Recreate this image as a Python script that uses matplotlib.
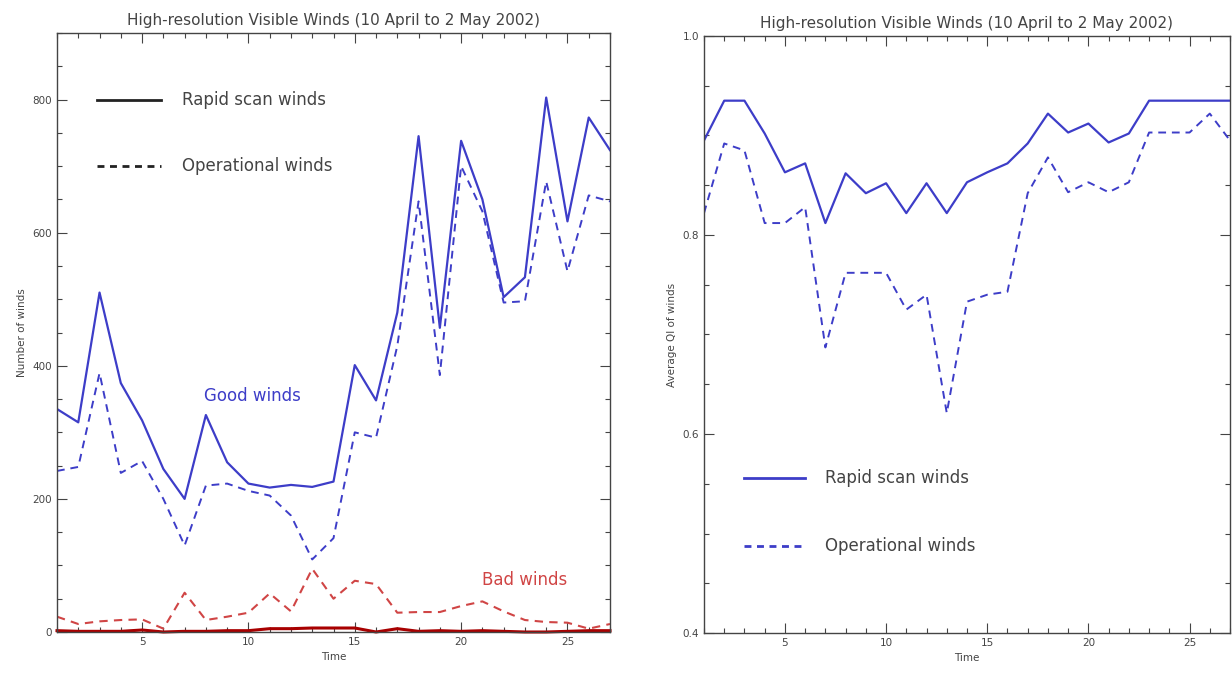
import matplotlib.pyplot as plt
import numpy as np
from matplotlib.ticker import MultipleLocator

time = np.arange(1, 28)

# left panel: number of winds
good_rapid = [335, 315, 510, 374, 318, 245, 200, 326, 255, 223, 217, 221, 218, 226,
              401, 348, 480, 745, 457, 738, 650, 503, 533, 803, 617, 773, 724]
good_oper = [242, 248, 389, 239, 257, 200, 130, 220, 223, 212, 205, 175, 109, 141,
             300, 292, 430, 647, 386, 700, 632, 495, 497, 677, 542, 656, 647]
bad_rapid = [2, 1, 1, 1, 3, 0, 1, 1, 2, 2, 5, 5, 6, 6,
             6, 0, 5, 1, 2, 1, 2, 1, 0, 0, 1, 2, 2]
bad_oper = [23, 12, 16, 18, 19, 5, 59, 18, 23, 29, 58, 31, 95, 50,
            77, 72, 29, 30, 30, 39, 46, 31, 18, 15, 14, 5, 12]

# right panel: average QI
qi_rapid = [0.895, 0.935, 0.935, 0.902, 0.863, 0.872, 0.812, 0.862, 0.842, 0.852, 0.822, 0.852, 0.822, 0.853,
            0.863, 0.872, 0.892, 0.922, 0.903, 0.912, 0.893, 0.902, 0.935, 0.935, 0.935, 0.935, 0.935]
qi_oper = [0.822, 0.892, 0.885, 0.812, 0.812, 0.828, 0.687, 0.762, 0.762, 0.762, 0.725, 0.740, 0.621, 0.733,
           0.740, 0.743, 0.842, 0.878, 0.843, 0.853, 0.843, 0.853, 0.903, 0.903, 0.903, 0.922, 0.895]

title = "High-resolution Visible Winds (10 April to 2 May 2002)"
blue = "#3d3dc8"
red_d = "#d04545"
red_s = "#a80000"
gray = "#444444"

fig = plt.figure(figsize=(12.32, 6.88), dpi=100)
ax1 = fig.add_axes([57/1232, 56/688, 553/1232, 599/688])
ax2 = fig.add_axes([704/1232, 55/688, 526/1232, 597/688])


def style(ax):
    ax.tick_params(which="both", direction="in", top=True, right=True,
                   colors=gray, labelsize=7.5, labelcolor=gray)
    ax.tick_params(which="major", length=7, width=0.8)
    ax.tick_params(which="minor", length=3.5, width=0.8)
    for s in ax.spines.values():
        s.set_color(gray)
        s.set_linewidth(1)
    ax.set_xlim(1, 27)
    ax.xaxis.set_major_locator(MultipleLocator(5))
    ax.xaxis.set_minor_locator(MultipleLocator(1))
    ax.set_xlabel("Time", fontsize=7.5, color=gray)
    ax.set_title(title, fontsize=11, color=gray, pad=6)


# left panel
ax1.plot(time, good_rapid, color=blue, lw=1.6)
ax1.plot(time, good_oper, color=blue, lw=1.4, ls=(0, (4, 3)))
ax1.plot(time, bad_oper, color=red_d, lw=1.5, ls=(0, (4, 3)))
ax1.plot(time, bad_rapid, color=red_s, lw=2.2, clip_on=False)
ax1.set_ylim(0, 900)
ax1.yaxis.set_major_locator(MultipleLocator(200))
ax1.yaxis.set_minor_locator(MultipleLocator(50))
ax1.set_yticks([0, 200, 400, 600, 800])
ax1.set_ylabel("Number of winds", fontsize=7.5, color=gray)
style(ax1)

ax1.plot([2.9, 5.9], [800, 800], color="#222222", lw=2)
ax1.plot([2.9, 5.9], [700, 700], color="#222222", lw=2, ls=(0, (2.5, 2)))
ax1.text(6.9, 800, "Rapid scan winds", fontsize=12, color=gray, va="center")
ax1.text(6.9, 700, "Operational winds", fontsize=12, color=gray, va="center")
ax1.text(7.9, 355, "Good winds", fontsize=12, color=blue, va="center")
ax1.text(21.0, 78, "Bad winds", fontsize=12, color=red_d, va="center")

# right panel
ax2.plot(time, qi_rapid, color=blue, lw=1.6)
ax2.plot(time, qi_oper, color=blue, lw=1.4, ls=(0, (4, 3)))
ax2.set_ylim(0.4, 1.0)
ax2.yaxis.set_major_locator(MultipleLocator(0.2))
ax2.yaxis.set_minor_locator(MultipleLocator(0.05))
ax2.set_ylabel("Average QI of winds", fontsize=7.5, color=gray)
style(ax2)

ax2.plot([3.0, 6.0], [0.556, 0.556], color=blue, lw=2)
ax2.plot([3.0, 6.0], [0.487, 0.487], color=blue, lw=2, ls=(0, (2.5, 2)))
ax2.text(7.0, 0.556, "Rapid scan winds", fontsize=12, color=gray, va="center")
ax2.text(7.0, 0.487, "Operational winds", fontsize=12, color=gray, va="center")

fig.savefig("out.png", dpi=100)
